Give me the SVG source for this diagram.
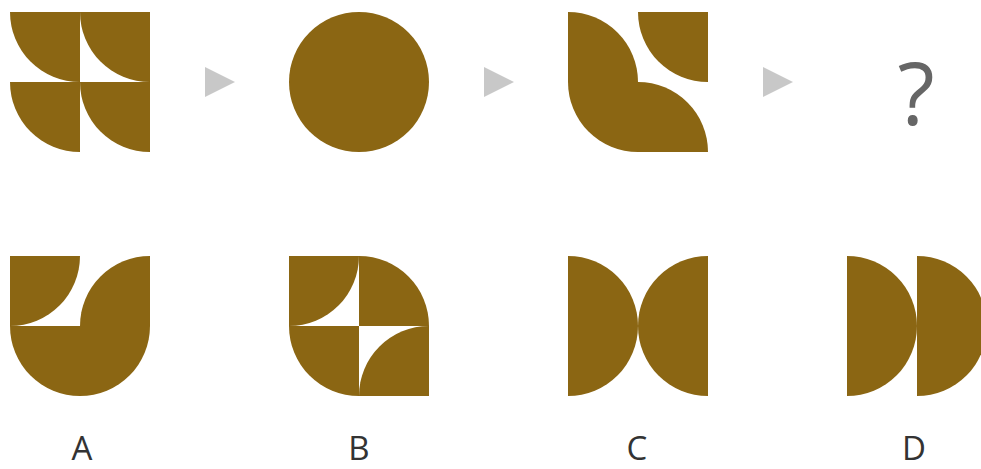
<svg xmlns="http://www.w3.org/2000/svg" width="981" height="469" viewBox="0 0 981 469">
<style>
.f{fill:#8B6613}
.arr{fill:#c8c8c8}
.lbl{font-family:"Open Sans","Liberation Sans",sans-serif;font-size:33px;fill:#333;text-anchor:middle}
.q{font-family:"Open Sans","Liberation Sans",sans-serif;font-size:86px;fill:#666;text-anchor:middle}
</style>
<rect width="981" height="469" fill="#fff"/>
<g id="fig1" class="f">
<path d="M80,12 L10,12 A70,70 0 0 0 80,82 Z"/>
<path d="M150,12 L80,12 A70,70 0 0 0 150,82 Z"/>
<path d="M80,82 L10,82 A70,70 0 0 0 80,152 Z"/>
<path d="M150,82 L80,82 A70,70 0 0 0 150,152 Z"/>
</g>
<g id="fig2" class="f">
<circle cx="359" cy="82" r="70"/>
</g>
<g id="fig3" class="f">
<path d="M568,82 L568,12 A70,70 0 0 1 638,82 Z"/>
<path d="M708,12 L638,12 A70,70 0 0 0 708,82 Z"/>
<path d="M638,82 L568,82 A70,70 0 0 0 638,152 Z"/>
<path d="M638,152 L638,82 A70,70 0 0 1 708,152 Z"/>
</g>
<g id="question">
<text class="q" x="916" y="125">?</text>
</g>
<g id="connectors" class="arr">
<polygon points="205,67 235,82 205,97"/>
<polygon points="484,67 514,82 484,97"/>
<polygon points="763,67 793,82 763,97"/>
</g>
<g id="optA" class="f">
<path d="M10,256 L80,256 A70,70 0 0 1 10,326 Z"/>
<path d="M150,326 L80,326 A70,70 0 0 1 150,256 Z"/>
<path d="M80,326 L10,326 A70,70 0 0 0 80,396 Z"/>
<path d="M80,326 L150,326 A70,70 0 0 1 80,396 Z"/>
</g>
<g id="optB" class="f">
<path d="M289,256 L359,256 A70,70 0 0 1 289,326 Z"/>
<path d="M359,326 L359,256 A70,70 0 0 1 429,326 Z"/>
<path d="M359,326 L289,326 A70,70 0 0 0 359,396 Z"/>
<path d="M429,396 L359,396 A70,70 0 0 1 429,326 Z"/>
</g>
<g id="optC" class="f">
<path d="M568,256 A70,70 0 0 1 568,396 Z"/>
<path d="M708,256 A70,70 0 0 0 708,396 Z"/>
</g>
<g id="optD" class="f">
<path d="M847,256 A70,70 0 0 1 847,396 Z"/>
<path d="M917,256 A70,70 0 0 1 917,396 Z"/>
</g>
<g id="labels">
<text class="lbl" x="82" y="460">A</text>
<text class="lbl" x="359" y="460">B</text>
<text class="lbl" x="637" y="460">C</text>
<text class="lbl" x="914" y="460">D</text>
</g>
</svg>
